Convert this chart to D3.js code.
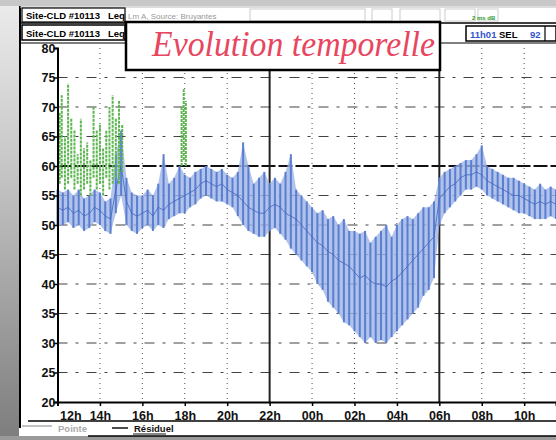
<!DOCTYPE html>
<html>
<head>
<meta charset="utf-8">
<script src="https://cdn.jsdelivr.net/npm/d3@7/dist/d3.min.js"></script>
<style>
  html, body { margin: 0; padding: 0; background: #fff; }
  svg { display: block; }
</style>
</head>
<body>
<div id="chart"></div>
<script>
// time axis, hours after 12h
const xTickHours = [0, 2, 4, 6, 8, 10, 12, 14, 16, 18, 20, 22];
const xTickLabels = ["12h", "14h", "16h", "18h", "20h", "22h", "00h", "02h", "04h", "06h", "08h", "10h"];
const yTicks = [20, 25, 30, 35, 40, 45, 50, 55, 60, 65, 70, 75, 80];

// Résiduel (blue), read every quarter hour: centre, low, high in dB
const resHours = [0, 0.25, 0.5, 0.75, 1, 1.25, 1.5, 1.75, 2, 2.25, 2.5, 2.75, 3, 3.25, 3.5, 3.75,
  4, 4.25, 4.5, 4.75, 5, 5.25, 5.5, 5.75, 6, 6.25, 6.5, 6.75, 7, 7.25, 7.5, 7.75,
  8, 8.25, 8.5, 8.75, 9, 9.25, 9.5, 9.75, 10, 10.25, 10.5, 10.75, 11, 11.25, 11.5, 11.75,
  12, 12.25, 12.5, 12.75, 13, 13.25, 13.5, 13.75, 14, 14.25, 14.5, 14.75, 15, 15.25, 15.5, 15.75,
  16, 16.25, 16.5, 16.75, 17, 17.25, 17.5, 17.75, 18, 18.25, 18.5, 18.75, 19, 19.25, 19.5, 19.75,
  20, 20.25, 20.5, 20.75, 21, 21.25, 21.5, 21.75, 22, 22.25, 22.5, 22.75, 23, 23.25, 23.5];
const resMid = [53, 52.5, 53, 52, 52.5, 51.5, 52, 53, 52.5, 51.5, 51, 56, 60, 54, 52, 51.5,
  52, 52.5, 51.5, 53, 52.5, 53.5, 54, 54.5, 55, 55.5, 56, 57, 57.5, 57, 56.5, 57,
  56, 55.5, 55, 54, 53, 52.5, 52, 52, 53, 53.5, 53, 52, 51.5, 51, 50, 49,
  48, 47, 46.5, 45.5, 45, 44, 43.5, 43, 42, 41, 41.5, 40.5, 40, 40, 39.5, 40.5,
  41, 42, 43, 44, 45, 46, 47, 48, 54.5, 55.5, 56.5, 57, 58, 58.5, 58.5, 59,
  58.5, 57.5, 57, 56.5, 56, 55.5, 55, 55, 54.5, 54, 53.5, 54, 53.5, 54, 53.5];
const resLow = [50, 50, 50.5, 49.5, 50, 49, 49.5, 50.5, 50, 49, 48.5, 52, 55, 50, 49, 48.5,
  49.5, 50, 49, 50, 49.5, 51, 51.5, 52, 52, 53, 53.5, 54.5, 55, 54.5, 54, 54,
  53.5, 53, 51.5, 50, 49, 48.5, 48, 48, 49, 49.5, 48.5, 47.5, 46, 45, 44, 43,
  42, 40, 39, 37, 36, 35, 33.5, 33, 32, 31, 30, 31, 30, 30.5, 30, 31,
  32, 33, 34, 35, 36, 38, 39, 41, 50, 52, 53, 54, 55, 56, 56, 56.5,
  56, 55, 54.5, 54, 53.5, 53, 52.5, 52, 52, 51.5, 51, 51, 51, 51.5, 51];
const resHigh = [56, 55.5, 56, 55, 56, 54.5, 55, 56, 55.5, 54, 54.5, 62, 66, 58, 55.5, 55,
  55, 56, 55, 57, 62, 57, 58, 60, 58.5, 58, 59, 59.5, 60, 59.5, 59, 59.5,
  58.5, 58, 59, 64, 60, 57, 58, 59, 57, 58, 57, 59, 62, 56, 55, 54,
  53, 52, 52.5, 51, 51.5, 50, 51, 49, 49, 48.5, 49, 47, 48, 49, 50, 48,
  50, 51, 51.5, 51, 52, 53, 53, 54, 58, 59, 59.5, 60, 60.5, 61, 61, 62,
  63.5, 60, 59.5, 59, 58.5, 58, 58, 57.5, 57, 56.5, 56, 57, 56, 56.5, 56];

// Pointe (green) events: hour, low, high in dB
const pointeHours = [0.1, 0.2, 0.35, 0.5, 0.65, 0.8, 0.95, 1.1, 1.25, 1.4, 1.55, 1.7, 1.85,
  2, 2.15, 2.3, 2.45, 2.6, 2.75, 2.9, 3.05, 5.85, 5.95, 6.05];
const pointeLow = [57, 58, 56, 57, 58, 56, 57, 55, 56, 57, 55, 58, 56,
  57, 55, 58, 56, 57, 58, 57, 59, 60, 61, 60];
const pointeHigh = [69, 72, 65, 74, 68, 66, 62, 68, 63, 64, 61, 70, 66,
  67, 63, 66, 70, 72, 68, 71, 67, 70, 73, 71];

const W = 556, H = 440;
const svg = d3.select("#chart").append("svg").attr("width", W).attr("height", H);
const font = "'Liberation Sans Narrow', 'Liberation Sans', Arial, sans-serif";

const x = d3.scaleLinear().domain([0, 23.5]).range([57.5, 556]);
const y = d3.scaleLinear().domain([20, 80]).range([402, 48]);

// scanned page edges
const grad = svg.append("defs").append("linearGradient")
  .attr("id", "edge").attr("x1", 0).attr("y1", 0).attr("x2", 0).attr("y2", 1);
grad.append("stop").attr("offset", "0%").attr("stop-color", "#ececec");
grad.append("stop").attr("offset", "35%").attr("stop-color", "#c9c9c9");
grad.append("stop").attr("offset", "100%").attr("stop-color", "#7d7d7d");
svg.append("rect").attr("x", 0).attr("y", 0).attr("width", 19).attr("height", H).attr("fill", "url(#edge)");
svg.append("rect").attr("x", 0).attr("y", 0).attr("width", W).attr("height", 6).attr("fill", "#c8c8c8");
svg.append("rect").attr("x", 0).attr("y", 436).attr("width", W).attr("height", 4).attr("fill", "#9a9a9a");

// grid
const grid = svg.append("g");
grid.selectAll("line.h").data(yTicks.filter(v => v > 20 && v < 80)).enter().append("line")
  .attr("x1", x(0)).attr("x2", W).attr("y1", d => y(d)).attr("y2", d => y(d))
  .attr("stroke", d => d === 60 ? "#111" : "#222")
  .attr("stroke-width", d => d === 60 ? 1.8 : 1.1)
  .attr("stroke-dasharray", d => d === 60 ? "14,3" : "10,8,3,8")
  .attr("opacity", d => d === 60 ? 1 : 0.85);
grid.selectAll("line.v").data(xTickHours.filter(h => h > 0)).enter().append("line")
  .attr("x1", d => x(d)).attr("x2", d => x(d)).attr("y1", y(80)).attr("y2", y(20))
  .attr("stroke", "#222")
  .attr("stroke-width", d => (d === 10 || d === 18) ? 2 : 1)
  .attr("stroke-dasharray", d => (d === 10 || d === 18) ? null : "1,4")
  .attr("opacity", d => (d === 10 || d === 18) ? 1 : 0.8);

// Résiduel band
const res = resHours.map((h, i) => ({ h, mid: resMid[i], lo: resLow[i], hi: resHigh[i] }));
svg.append("path").datum(res)
  .attr("fill", "#9fb4e6").attr("opacity", 0.8)
  .attr("d", d3.area().x(d => x(d.h)).y0(d => y(d.lo)).y1(d => y(d.hi)));
svg.append("g").selectAll("line").data(res).enter().append("line")
  .attr("x1", d => x(d.h)).attr("x2", d => x(d.h))
  .attr("y1", d => y(d.lo)).attr("y2", d => y(d.hi))
  .attr("stroke", "#5a7ed0").attr("stroke-width", 2);
svg.append("path").datum(res)
  .attr("fill", "none").attr("stroke", "#3e64bf").attr("stroke-width", 1).attr("opacity", 0.8)
  .attr("d", d3.line().x(d => x(d.h)).y(d => y(d.mid)));

// Pointe marks
const pts = pointeHours.map((h, i) => ({ h, lo: pointeLow[i], hi: pointeHigh[i] }));
svg.append("g").selectAll("line").data(pts).enter().append("line")
  .attr("x1", d => x(d.h)).attr("x2", d => x(d.h))
  .attr("y1", d => y(d.lo)).attr("y2", d => y(d.hi))
  .attr("stroke", "#5cb64f").attr("stroke-width", 2)
  .attr("stroke-dasharray", "3,1");

// axes
const yAxis = svg.append("g").attr("transform", `translate(${x(0)},0)`)
  .call(d3.axisLeft(y).tickValues(yTicks).tickSize(4).tickFormat(d3.format("d")));
const xAxis = svg.append("g").attr("transform", `translate(0,${y(20)})`)
  .call(d3.axisBottom(x).tickValues(xTickHours).tickSize(4).tickFormat((d, i) => xTickLabels[i]));
[xAxis, yAxis].forEach(a => {
  a.select(".domain").attr("stroke", "#000").attr("stroke-width", 2);
  a.selectAll(".tick line").attr("stroke", "#000").attr("stroke-width", 1.5);
  a.selectAll("text").attr("font-family", font).attr("font-weight", "bold")
    .attr("font-size", 12.5).attr("fill", "#111");
});
yAxis.selectAll("text").attr("x", -2);
xAxis.selectAll("text").attr("dy", "0.9em");
xAxis.select(".tick text").attr("text-anchor", "start").attr("x", 2);

// frame lines
svg.append("line").attr("x1", 20).attr("x2", 20).attr("y1", 6).attr("y2", 428)
  .attr("stroke", "#000").attr("stroke-width", 2);
svg.append("line").attr("x1", 28).attr("x2", W).attr("y1", 421).attr("y2", 421)
  .attr("stroke", "#000").attr("stroke-width", 1.6);
svg.append("line").attr("x1", 88).attr("x2", W).attr("y1", 436).attr("y2", 436)
  .attr("stroke", "#000").attr("stroke-width", 1.6);

// header rows
const hdr = svg.append("g").attr("font-family", font).attr("font-weight", "bold").attr("font-size", 9.5);
hdr.append("line").attr("x1", 20).attr("x2", W).attr("y1", 7).attr("y2", 7).attr("stroke", "#bbb");
hdr.append("rect").attr("x", 22).attr("y", 8).attr("width", 103).attr("height", 14)
  .attr("fill", "#fff").attr("stroke", "#000").attr("stroke-width", 1.2);
hdr.append("text").attr("x", 26).attr("y", 19).text("Site-CLD #10113");
hdr.append("text").attr("x", 108).attr("y", 19).text("Leq");
hdr.append("text").attr("x", 128).attr("y", 19).attr("fill", "#999").attr("font-weight", "normal")
  .attr("font-size", 8).text("Lm A, Source: Bruyantes");
[[250, 115], [372, 20], [400, 40], [445, 30], [478, 20]].forEach(([bx, bw]) =>
  hdr.append("rect").attr("x", bx).attr("y", 9).attr("width", bw).attr("height", 12)
    .attr("fill", "none").attr("stroke", "#ccc"));
hdr.append("line").attr("x1", 20).attr("x2", W).attr("y1", 23).attr("y2", 23)
  .attr("stroke", "#000").attr("stroke-width", 1.6);
hdr.append("rect").attr("x", 22).attr("y", 25).attr("width", 103).attr("height", 15)
  .attr("fill", "#fff").attr("stroke", "#000").attr("stroke-width", 1.5);
hdr.append("text").attr("x", 26).attr("y", 37).text("Site-CLD #10113");
hdr.append("text").attr("x", 108).attr("y", 37).text("Leq");
hdr.append("rect").attr("x", 466).attr("y", 26).attr("width", 90).attr("height", 15)
  .attr("fill", "#fff").attr("stroke", "#000").attr("stroke-width", 1.5);
hdr.append("text").attr("x", 470).attr("y", 38).attr("fill", "#3355cc").text("11h01");
hdr.append("text").attr("x", 499).attr("y", 38).text("SEL");
hdr.append("text").attr("x", 530).attr("y", 38).attr("fill", "#3355cc").text("92");
hdr.append("line").attr("x1", 545).attr("x2", 545).attr("y1", 26).attr("y2", 41)
  .attr("stroke", "#000").attr("stroke-width", 1.2);
hdr.append("text").attr("x", 472).attr("y", 20).attr("fill", "#2a9a2a").attr("font-size", 6).text("2 ms dB");
hdr.append("line").attr("x1", 440).attr("x2", W).attr("y1", 43).attr("y2", 43)
  .attr("stroke", "#000").attr("stroke-width", 1.2);
hdr.append("line").attr("x1", 20).attr("x2", 126).attr("y1", 43).attr("y2", 43)
  .attr("stroke", "#000").attr("stroke-width", 1.2);

// title box
svg.append("rect").attr("x", 126).attr("y", 22).attr("width", 314).attr("height", 48)
  .attr("fill", "#fff").attr("stroke", "#000").attr("stroke-width", 2.5);
svg.append("text").attr("x", 152).attr("y", 56)
  .attr("font-family", "'Liberation Serif', 'DejaVu Serif', serif")
  .attr("font-style", "italic").attr("font-size", 36).attr("fill", "#e8465f")
  .attr("textLength", 283).attr("lengthAdjust", "spacingAndGlyphs")
  .text("Evolution temporelle");

// legend
const leg = svg.append("g").attr("font-family", font).attr("font-weight", "bold").attr("font-size", 9.5);
leg.append("line").attr("x1", 22).attr("x2", 52).attr("y1", 426).attr("y2", 426)
  .attr("stroke", "#999").attr("stroke-width", 1.2);
leg.append("text").attr("x", 58).attr("y", 432).attr("fill", "#aaa").text("Pointe");
leg.append("line").attr("x1", 112).attr("x2", 128).attr("y1", 428).attr("y2", 428)
  .attr("stroke", "#111").attr("stroke-width", 1.5);
leg.append("text").attr("x", 134).attr("y", 432).attr("fill", "#111").text("Résiduel");
leg.append("line").attr("x1", 133).attr("x2", 166).attr("y1", 434).attr("y2", 434)
  .attr("stroke", "#111").attr("stroke-width", 1);
</script>
</body>
</html>
